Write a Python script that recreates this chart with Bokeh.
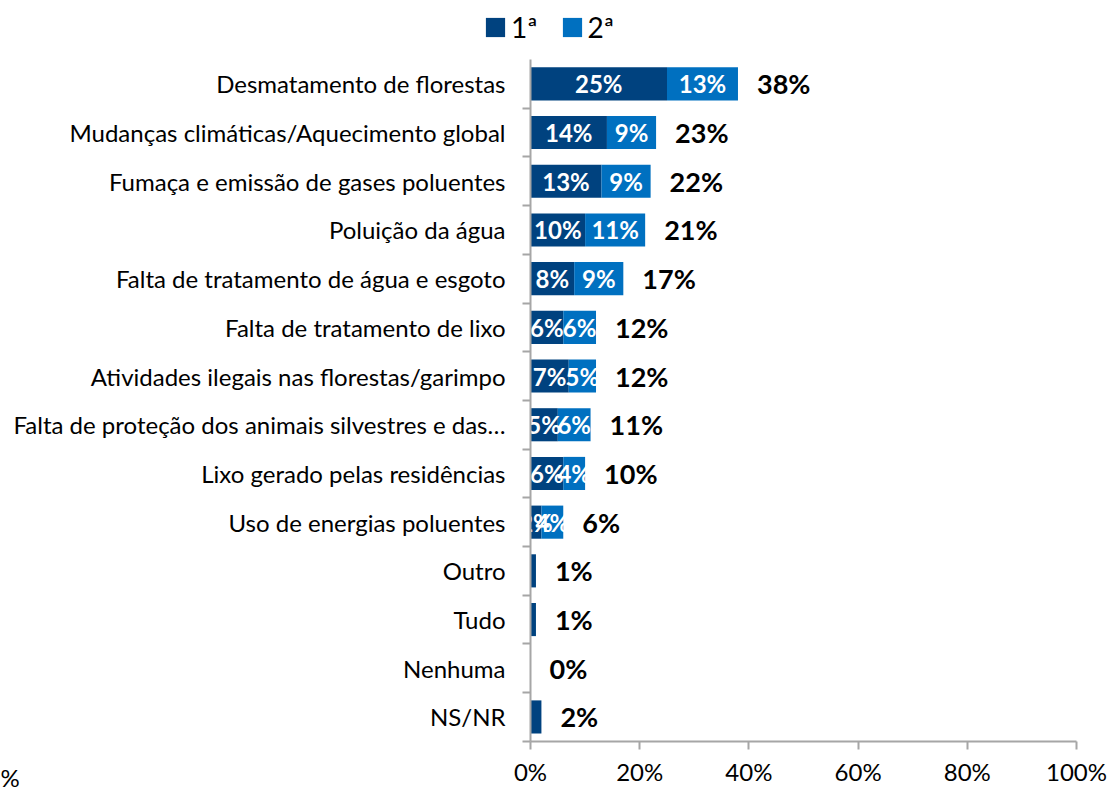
from bokeh.plotting import figure
from bokeh.models import ColumnDataSource, FixedTicker, Legend, LegendItem, Range1d
from bokeh.embed import file_html
from bokeh.resources import INLINE
from bokeh.core.properties import value

categories = [
    "Desmatamento de florestas",
    "Mudanças climáticas/Aquecimento global",
    "Fumaça e emissão de gases poluentes",
    "Poluição da água",
    "Falta de tratamento de água e esgoto",
    "Falta de tratamento de lixo",
    "Atividades ilegais nas florestas/garimpo",
    "Falta de proteção dos animais silvestres e das…",
    "Lixo gerado pelas residências",
    "Uso de energias poluentes",
    "Outro",
    "Tudo",
    "Nenhuma",
    "NS/NR",
]
first = [25, 14, 13, 10, 8, 6, 7, 5, 6, 2, 1, 1, 0, 2]
second = [13, 9, 9, 11, 9, 6, 5, 6, 4, 4, 0, 0, 0, 0]
series_names = ["1ª", "2ª"]
x_ticks = [0, 20, 40, 60, 80, 100]
x_tick_labels = ["0%", "20%", "40%", "60%", "80%", "100%"]
stray_label = "%"

DARK = "#00427F"
LIGHT = "#0070C0"
AXIS = "#A6A6A6"
FONT = "Lato"

W, H = 1120, 794
# pixel layout of the plotting area (canvas pixels)
X0_PX, X100_PX = 530, 1076
ROW0_PX, ROW_STEP = 83.35, 48.7

n = len(categories)
ys = [n - 1 - i for i in range(n)]
totals = [a + b for a, b in zip(first, second)]

ppu = (X100_PX - X0_PX) / 100.0
x_lo = -X0_PX / ppu
x_hi = 100 + (W - X100_PX) / ppu
y_hi = (n - 1) + ROW0_PX / ROW_STEP
y_lo = (n - 1) - (H - ROW0_PX) / ROW_STEP

src = ColumnDataSource(dict(y=ys, first=first, second=second, total=totals,
                            tlabel=[f"{t}%" for t in totals]))

inner_idx = [i for i in range(n) if first[i] > 0 and second[i] > 0]
inner = ColumnDataSource(dict(
    y=[ys[i] for i in inner_idx] * 2,
    x=[first[i] / 2 for i in inner_idx] + [first[i] + second[i] / 2 for i in inner_idx],
    t=[f"{first[i]}%" for i in inner_idx] + [f"{second[i]}%" for i in inner_idx],
))

p = figure(width=W, height=H, output_backend="svg", toolbar_location=None,
           x_range=Range1d(x_lo, x_hi), y_range=Range1d(y_lo, y_hi),
           min_border=0)
p.title.visible = False
p.outline_line_color = None
p.xgrid.visible = False
p.ygrid.visible = False
p.background_fill_color = "white"
p.border_fill_color = "white"

r1 = p.hbar(y="y", left=0, right="first", height=0.68, source=src,
            fill_color=DARK, line_color=None)
r2 = p.hbar(y="y", left="first", right="total", height=0.68, source=src,
            fill_color=LIGHT, line_color=None)

p.text(x="x", y="y", text="t", source=inner, text_color="white",
       text_font=value(FONT), text_font_style="bold", text_font_size="24px",
       text_align="center", text_baseline="middle")
p.text(x="total", y="y", text="tlabel", source=src, x_offset=19,
       text_color="black", text_font=value(FONT), text_font_style="bold",
       text_font_size="27px", text_align="left", text_baseline="middle")

# stray tick-label fragment at the bottom-left corner of the reference
p.text(x=[x_lo], y=[(n - 1) - (777 - ROW0_PX) / ROW_STEP], text=[stray_label],
       text_color="black", text_font=value(FONT), text_font_size="24px",
       text_align="left", text_baseline="middle")

xa = p.xaxis[0]
xa.fixed_location = -0.5
xa.bounds = (0, 100)
xa.ticker = FixedTicker(ticks=x_ticks, minor_ticks=[])
xa.major_label_overrides = {t: l for t, l in zip(x_ticks, x_tick_labels)}
xa.axis_line_color = AXIS
xa.axis_line_width = 2
xa.major_tick_line_color = AXIS
xa.major_tick_line_width = 2
xa.major_tick_out = 8
xa.major_tick_in = 0
xa.minor_tick_line_color = None
xa.major_label_standoff = 8
xa.major_label_text_font = FONT
xa.major_label_text_font_size = "24px"
xa.major_label_text_color = "black"

ya = p.yaxis[0]
ya.fixed_location = 0
ya.bounds = (-0.5, n - 0.5)
ya.ticker = FixedTicker(ticks=ys, minor_ticks=[i - 0.5 for i in range(n)])
ya.major_label_overrides = {y: c for y, c in zip(ys, categories)}
ya.axis_line_color = AXIS
ya.axis_line_width = 2
ya.major_tick_out = 0
ya.major_tick_in = 0
ya.minor_tick_line_color = AXIS
ya.minor_tick_line_width = 2
ya.minor_tick_out = 8
ya.minor_tick_in = 0
ya.major_label_standoff = 17
ya.major_label_text_font = FONT
ya.major_label_text_font_size = "24px"
ya.major_label_text_color = "black"

legend = Legend(items=[LegendItem(label=series_names[0], renderers=[r1]),
                       LegendItem(label=series_names[1], renderers=[r2])],
                orientation="horizontal", location=(483, 750),
                glyph_width=24, glyph_height=24, label_height=22,
                label_text_font=FONT, label_text_font_size="28px",
                label_text_color="black",
                label_standoff=4, spacing=22,
                padding=0, margin=0, border_line_color=None,
                background_fill_alpha=0)
p.add_layout(legend, "center")

open("out.html", "w").write(file_html(p, INLINE))
